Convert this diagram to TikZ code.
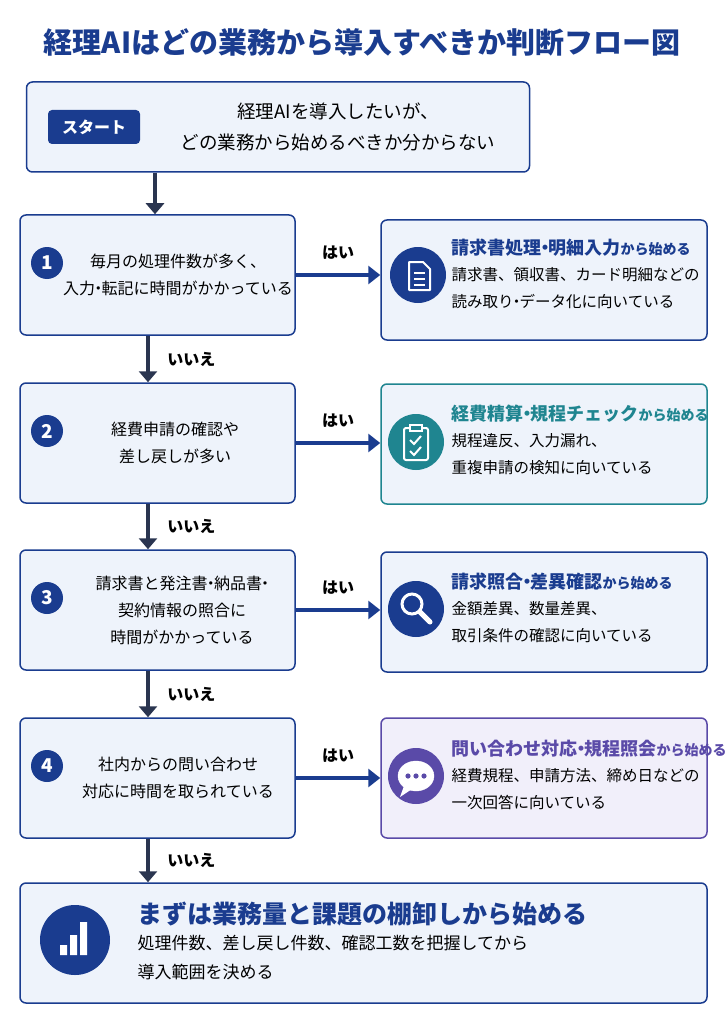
\documentclass[tikz,border=0pt]{standalone}
\usepackage{fontspec}
\setmainfont{Noto Sans CJK JP}
\usetikzlibrary{positioning,arrows.meta}
\definecolor{navy}{HTML}{1A3C8F}
\definecolor{ink}{HTML}{2B3E6B}
\definecolor{boxfill}{HTML}{EEF3FB}
\definecolor{tealc}{HTML}{1F8590}
\definecolor{purp}{HTML}{5A4AA8}
\definecolor{lav}{HTML}{F1EFFA}
\definecolor{dark}{HTML}{2A3550}
\tikzset{
  qbox/.style={draw=navy, line width=1.5pt, fill=boxfill, rounded corners=6pt, minimum width=275pt, minimum height=120pt},
  abox/.style={draw=#1, line width=1.5pt, fill=boxfill, rounded corners=6pt, minimum width=326pt, minimum height=120pt},
  num/.style={circle, fill=navy, text=white, font=\bfseries\fontsize{19}{19}\selectfont, minimum size=32pt, inner sep=0pt},
  icon/.style={circle, fill=#1, minimum size=56pt, inner sep=0pt},
  qtext/.style={align=center, font=\fontsize{16}{27}\selectfont, text=black},
  atext/.style={align=left, anchor=north west, font=\fontsize{15.5}{27}\selectfont, text=black},
  ahead/.style={anchor=west, text=#1, font=\bfseries},
  yes/.style={draw=navy, line width=4pt, -{Triangle[length=12pt,width=18pt]}},
  no/.style={draw=dark, line width=4pt, -{Triangle[length=11pt,width=18pt]}},
  lab/.style={font=\bfseries\fontsize{16}{16}\selectfont, text=black}
}
\newcommand{\nd}{\kern-0.3em・\kern-0.3em}
\newcommand{\headtxt}[2]{{\fontsize{18}{18}\selectfont #1}{\fontsize{14}{14}\selectfont #2}}
\begin{document}
\begin{tikzpicture}[x=1pt,y=-1pt]
\useasboundingbox[fill=white] (0,0) rectangle (725,1024);
% title
\node[text=navy, font=\bfseries\fontsize{29}{29}\selectfont] (title) at (362,42) {経理AIはどの業務から導入すべきか判断フロー図};
% start
\node[draw=navy, line width=1.5pt, fill=boxfill, rounded corners=6pt, minimum width=503pt, minimum height=90pt] (start) at (278,127) {};
\node[fill=navy, text=white, rounded corners=4pt, minimum width=92pt, minimum height=34pt, font=\bfseries\fontsize{16}{16}\selectfont] (pill) at (94,127) {スタート};
\node[qtext, font=\fontsize{18.5}{31}\selectfont] (st) at (338,127) {経理AIを導入したいが、\\どの業務から始めるべきか分からない};
% question boxes
\foreach \i/\y in {1/275, 2/443, 3/610, 4/778}{
  \node[qbox] (q\i) at (157.5,\y) {};
  \node[num] (n\i) at (47,\y-12) {\i};
}
\node[qtext] (t1) at (178,275) {毎月の処理件数が多く、\\入力\nd 転記に時間がかかっている};
\node[qtext] (t2) at (175,443) {経費申請の確認や\\差し戻しが多い};
\node[qtext] (t3) at (182,610) {請求書と発注書\nd 納品書\nd\\契約情報の照合に\\時間がかかっている};
\node[qtext] (t4) at (178,778) {社内からの問い合わせ\\対応に時間を取られている};
% answer boxes
\node[abox=navy] (a1) at (544,280) {};
\node[abox=tealc] (a2) at (544,444) {};
\node[abox=navy] (a3) at (544,612) {};
\node[abox=purp, fill=lav] (a4) at (544,778) {};
\node[icon=navy] (i1) at (418,275) {};
\node[icon=tealc] (i2) at (416,442) {};
\node[icon=navy] (i3) at (416,609) {};
\node[icon=purp] (i4) at (416,776) {};
% icons
\draw[white, line width=2pt, line join=round] (409,262) -- (423,262) -- (430,269) -- (430,290) -- (409,290) -- cycle;
\draw[white, line width=2pt] (414,273) -- (425,273) (414,279) -- (425,279) (414,285) -- (425,285);
\draw[white, line width=2pt, rounded corners=2pt] (404,428) rectangle (428,460);
\draw[white, line width=2pt, fill=tealc] (410,425) rectangle (422,431);
\draw[white, line width=2pt] (410,440) -- (414,444) -- (421,436) (410,451) -- (414,455) -- (421,447);
\draw[white, line width=3pt] (412,604) circle (10pt);
\draw[white, line width=5pt, line cap=round] (420,612) -- (430,622);
\draw[white, fill=white] (416,776) ellipse (18pt and 15pt);
\fill[white] (404,786) -- (400,797) -- (412,789) -- cycle;
\foreach \dx in {-8,0,8} \fill[purp] (416+\dx,776) circle (2.6pt);
\node[ahead=navy] (h1) at (448,248) {\headtxt{請求書処理\nd 明細入力}{から始める}};
\node[ahead=tealc] (h2) at (448,414) {\headtxt{経費精算\nd 規程チェック}{から始める}};
\node[ahead=navy] (h3) at (448,582) {\headtxt{請求照合\nd 差異確認}{から始める}};
\node[ahead=purp] (h4) at (448,749) {\headtxt{問い合わせ対応\nd 規程照会}{から始める}};
\node[atext] (b1) at (448,264) {請求書、領収書、カード明細などの\\読み取り\nd データ化に向いている};
\node[atext] (b2) at (448,430) {規程違反、入力漏れ、\\重複申請の検知に向いている};
\node[atext] (b3) at (448,598) {金額差異、数量差異、\\取引条件の確認に向いている};
\node[atext] (b4) at (448,765) {経費規程、申請方法、締め日などの\\一次回答に向いている};
% final
\node[draw=navy, line width=1.5pt, fill=boxfill, rounded corners=6pt, minimum width=687pt, minimum height=120pt] (fin) at (363.5,943) {};
\node[icon=navy, minimum size=70pt] (i5) at (75,940) {};
\fill[white] (60,945) rectangle (67,955) (70,935) rectangle (77,955) (80,922) rectangle (87,955);
\node[anchor=west, text=navy, font=\bfseries\fontsize{25}{25}\selectfont] (fh) at (134,914) {まずは業務量と課題の棚卸しから始める};
\node[atext, font=\fontsize{17}{29}\selectfont] (fb) at (134,932) {処理件数、差し戻し件数、確認工数を把握してから\\導入範囲を決める};
% arrows
\draw[no] (start.south -| 155,0) -- (q1.north -| 155,0);
\foreach \i/\j in {1/2,2/3,3/4}{
  \draw[no] (q\i.south -| 148,0) -- node[lab, right=14pt] {いいえ} (q\j.north -| 148,0);
}
\draw[no] (q4.south -| 148,0) -- node[lab, right=14pt] {いいえ} (fin.north -| 148,0);
\foreach \i in {1,2,3,4}{
  \draw[yes] (q\i.east) -- node[lab, above=10pt] {はい} (a\i.west |- q\i.east);
}
\end{tikzpicture}
\end{document}
